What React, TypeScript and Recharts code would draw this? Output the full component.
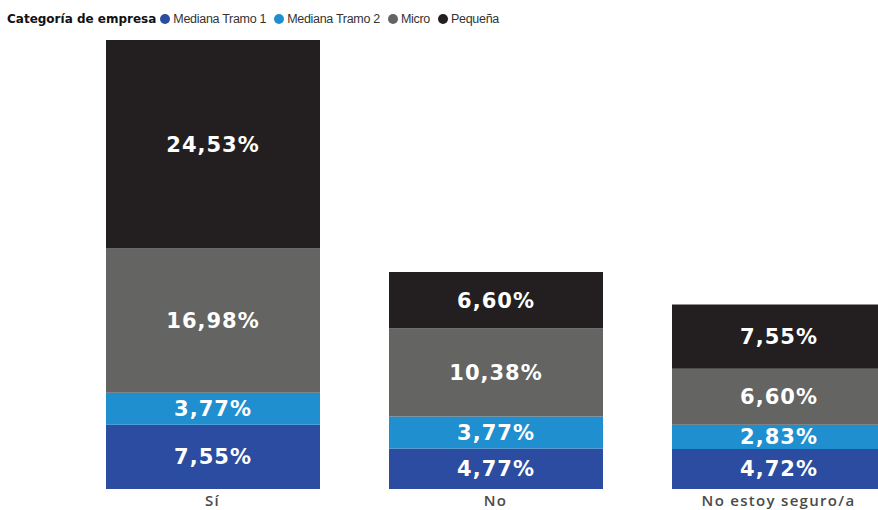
import React from 'react';
import { BarChart, Bar, XAxis, YAxis, LabelList } from 'recharts';

const categories = ['Sí', 'No', 'No estoy seguro/a'];
const medianaTramo1 = [7.55, 4.77, 4.72];
const medianaTramo2 = [3.77, 3.77, 2.83];
const micro = [16.98, 10.38, 6.6];
const pequena = [24.53, 6.6, 7.55];

const seriesNames = ['Mediana Tramo 1', 'Mediana Tramo 2', 'Micro', 'Pequeña'];
const seriesKeys = ['t1', 't2', 'micro', 'peq'];
const seriesColors = ['#2b4ca0', '#1f8fd0', '#646462', '#231f20'];

const data = categories.map((c, i) => ({
  cat: c,
  t1: medianaTramo1[i],
  t2: medianaTramo2[i],
  micro: micro[i],
  peq: pequena[i],
}));

const maxTotal = Math.max(
  ...categories.map((_, i) => medianaTramo1[i] + medianaTramo2[i] + micro[i] + pequena[i])
);

const fmt = (v: any) => Number(v).toFixed(2).replace('.', ',') + '%';

export default function App() {
  return (
    <div style={{ position: 'absolute', left: 0, top: 0, width: 878, height: 510, overflow: 'hidden', background: '#fff' }}>
      <div
        style={{
          position: 'absolute',
          left: 7,
          top: 12,
          display: 'flex',
          alignItems: 'center',
          fontFamily: '"Liberation Sans", Arial, sans-serif',
          fontSize: 12.5,
          letterSpacing: -0.3,
          color: '#333',
          whiteSpace: 'nowrap',
          zIndex: 2,
        }}
      >
        <span style={{ fontFamily: '"DejaVu Sans", sans-serif', fontWeight: 'bold', fontSize: 12, letterSpacing: 0, color: '#111', marginRight: 4 }}>
          Categoría de empresa
        </span>
        {seriesNames.map((n, i) => (
          <span key={n} style={{ display: 'flex', alignItems: 'center', marginRight: 8 }}>
            <span style={{ display: 'inline-block', width: 10, height: 10, borderRadius: 5, background: seriesColors[i], marginRight: 3 }} />
            {n}
          </span>
        ))}
      </div>
      <BarChart
        width={930}
        height={510}
        data={data}
        margin={{ top: 40, right: 10, left: 71, bottom: 0 }}
        barSize={214}
      >
        <XAxis
          dataKey="cat"
          height={21}
          axisLine={false}
          tickLine={false}
          tickSize={0}
          tickMargin={6}
          interval={0}
          tick={{ fill: '#4a4a4a', fontSize: 15, fontFamily: '"Open Sans", sans-serif', fontWeight: 600, letterSpacing: 1.3 }}
        />
        <YAxis hide domain={[0, maxTotal]} />
        {seriesKeys.map((k, i) => (
          <Bar key={k} dataKey={k} name={seriesNames[i]} stackId="a" fill={seriesColors[i]} isAnimationActive={false}>
            <LabelList
              dataKey={k}
              position="center"
              formatter={fmt}
              fill="#fff"
              style={{ fontFamily: '"DejaVu Sans", sans-serif', fontWeight: 'bold', fontSize: 21, letterSpacing: 1 }}
            />
          </Bar>
        ))}
      </BarChart>
    </div>
  );
}
